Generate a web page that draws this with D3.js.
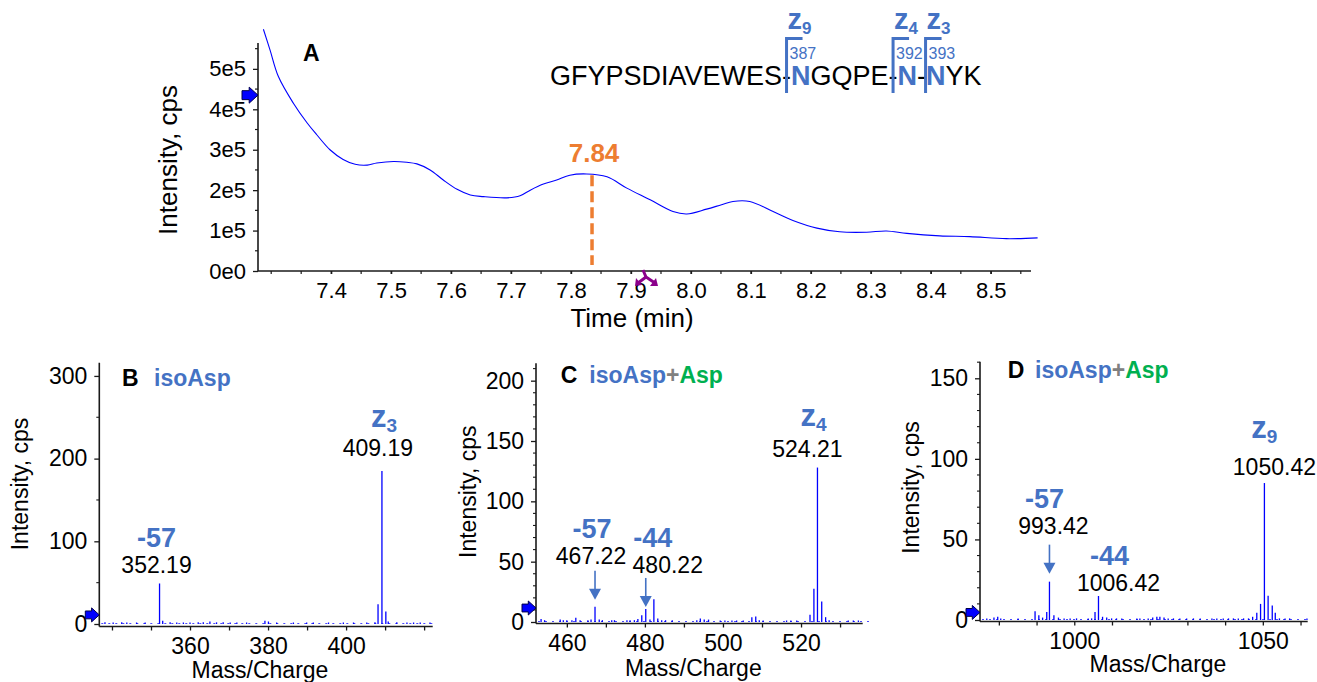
<!DOCTYPE html>
<html><head><meta charset="utf-8">
<script src="https://cdn.jsdelivr.net/npm/d3@7"></script>
<style>
body{margin:0;background:#fff}
svg{display:block;font-family:"Liberation Sans",Arial,Helvetica,sans-serif}
</style></head><body>
<svg id="c" width="1317" height="682"></svg>
<script>
// ================= DATA =================
// Panel A: extracted ion chromatogram (time in min, intensity in units of 1e5 cps)
const ticTime = [7.287,7.298,7.312,7.337,7.360,7.376,7.398,7.420,7.440,7.460,7.476,7.504,7.526,7.543,7.565,7.587,7.610,7.632,7.654,7.693,7.715,7.732,7.754,7.776,7.798,7.826,7.860,7.893,7.932,7.970,7.993,8.026,8.051,8.070,8.098,8.137,8.170,8.210,8.248,8.293,8.326,8.360,8.415,8.465,8.526,8.578];
const ticIntensity = [5.98,5.47,4.81,4.15,3.66,3.37,3.00,2.76,2.64,2.62,2.67,2.71,2.69,2.65,2.50,2.25,2.02,1.88,1.84,1.81,1.86,2.00,2.15,2.25,2.37,2.40,2.33,2.05,1.76,1.47,1.41,1.53,1.64,1.72,1.72,1.47,1.25,1.06,0.97,0.96,0.99,0.93,0.87,0.85,0.80,0.82];
const apexTime = 7.835;
const apexLabel = "7.84";
const markerTime = 7.925;
const ticThreshold = 4.35;
const ticYTicks = [0,1,2,3,4,5];
const ticYTickLabels = ["0e0","1e5","2e5","3e5","4e5","5e5"];
const ticXTicks = [7.4,7.5,7.6,7.7,7.8,7.9,8.0,8.1,8.2,8.3,8.4,8.5];
const ticXTickLabels = ["7.4","7.5","7.6","7.7","7.8","7.9","8.0","8.1","8.2","8.3","8.4","8.5"];

// Peptide sequence (N = deamidation sites)
const sequenceParts = [
  {text:"GFYPSDIAVEWES-", site:false},
  {text:"N", site:true},
  {text:"GQPE-", site:false},
  {text:"N", site:true},
  {text:"-", site:false},
  {text:"N", site:true},
  {text:"YK", site:false}
];
const siteIons = [{ion:"z", n:"9", residue:"387"},{ion:"z", n:"4", residue:"392"},{ion:"z", n:"3", residue:"393"}];

// Panels B-D: MS/MS spectra [m/z, intensity cps]
const peaksB = [[338.2,2],[340.3,1.5],[342.5,2],[343.8,1.5],[346.3,1],[348.5,1],[352.19,49],[353.0,4],[354.9,2],[356.6,1.5],[358.3,1.5],[360.0,1],[362.1,2],[363.4,2],[365.1,3],[366.8,2],[368.5,2],[370.3,1.5],[372.0,1],[374.5,1],[379.2,4],[380.1,3],[382.2,1.5],[386.5,1],[389.9,1],[391.6,1],[395.5,1],[399.3,1.5],[401.9,1],[405.3,1.5],[407.4,2],[408.19,24],[409.19,185],[410.19,15],[410.8,3],[413.0,2],[415.6,1],[417.3,1.5],[419.0,1],[421.5,1]];
const peaksC = [[453.4,2.5],[454.3,1.5],[458.3,2],[459.1,1.5],[460.0,1.5],[461.3,1.5],[462.3,3.5],[463.4,1.5],[465.4,1.5],[466.2,2],[467.22,12.7],[468.3,2],[469.1,1.5],[471.5,1.5],[472.2,1.5],[475.4,1.5],[476.2,1.5],[477.3,1.5],[478.2,2.5],[479.2,5.5],[480.22,10.8],[481.3,2],[482.3,18.8],[483.3,3],[484.3,1.5],[485.3,1.5],[487.0,1.5],[493.3,1.5],[494.2,3],[495.2,2],[496.3,2],[499.3,1],[500.5,1],[502.3,1],[503.5,1],[505.2,1],[507.4,4],[508.4,4.5],[509.3,1.5],[510.3,1],[516.3,1],[517.4,1],[518.9,1],[522.3,6],[523.3,27.6],[524.21,128],[525.3,17],[526.3,4],[527.2,1.5],[532.1,1],[533.4,1],[534.7,1]];
const peaksD = [[976.8,1],[978.7,1.5],[979.7,2],[980.5,1],[985.1,1],[989.6,5.5],[990.6,3],[991.6,1.5],[992.7,5],[993.42,23.8],[994.6,3],[995.8,1.5],[997.3,1],[998.9,1],[1000.6,1],[1003.7,1],[1004.6,1],[1005.5,5],[1006.42,14.9],[1007.5,2],[1008.6,1.5],[1009.9,1],[1011.2,1],[1012.6,1],[1016.6,1],[1017.4,1],[1019.6,1],[1020.8,1.5],[1021.9,2],[1022.7,2],[1023.8,1.5],[1024.9,1],[1026.3,1],[1028.0,1],[1029.8,1],[1031.6,1],[1033.4,1],[1036.5,1],[1037.8,1],[1039.5,1],[1040.9,1],[1042.2,1],[1043.5,1],[1044.9,1],[1046.2,1],[1047.3,2],[1048.4,4.5],[1049.4,10],[1050.42,85],[1051.4,15],[1052.5,9],[1053.3,4.5],[1054.4,1],[1055.9,1],[1057.1,1],[1061.7,1]];

const annotB = [{mz:352.19, value:"352.19", tag:"-57"},{mz:409.19, value:"409.19", tag:"z", sub:"3"}];
const annotC = [{mz:467.22, value:"467.22", tag:"-57", arrow:true},{mz:480.22, value:"480.22", tag:"-44", arrow:true},{mz:524.21, value:"524.21", tag:"z", sub:"4"}];
const annotD = [{mz:993.42, value:"993.42", tag:"-57", arrow:true},{mz:1006.42, value:"1006.42", tag:"-44"},{mz:1050.42, value:"1050.42", tag:"z", sub:"9"}];

const titleB = ["B", [["isoAsp","blue"]]];
const titleC = ["C", [["isoAsp","blue"],["+","gray"],["Asp","green"]]];
const titleD = ["D", [["isoAsp","blue"],["+","gray"],["Asp","green"]]];

const thresholdB = 11, thresholdC = 11.6, thresholdD = 4.7;

// ================= STYLE / LAYOUT =================
const BLUE = "#4472C4", GREEN = "#00B050", GRAY = "#808080", ORANGE = "#ED7D31", TRACE = "#0000ff", AXIS = "#1a1a1a";
const colorMap = {blue:BLUE, green:GREEN, gray:GRAY};
const svg = d3.select("#c");

function arrowMarker(g, xTip, yc, s) {
  const h = s/2, hw = s*0.28, sh = s*0.55;
  g.append("path")
    .attr("d", `M${xTip},${yc} L${xTip-sh},${yc-h} L${xTip-sh},${yc-hw} L${xTip-s},${yc-hw} L${xTip-s},${yc+hw} L${xTip-sh},${yc+hw} L${xTip-sh},${yc+h} Z`)
    .attr("fill", "#0000ff").attr("stroke", "#00004d").attr("stroke-width", 1);
}

function styleAxis(g, fs) {
  g.attr("font-family", null).attr("font-size", fs);
  g.selectAll("text").attr("fill", "#000");
  g.selectAll("line").attr("stroke", AXIS).attr("stroke-width", 1.3);
  g.select(".domain").remove();
}

// ---------- Panel A ----------
(function(){
  const L = {left:258, right:1031, y0:271, top:43};
  const x = d3.scaleLinear().domain([7.278, 8.567]).range([L.left, L.right]);
  const y = d3.scaleLinear().domain([0, 5.64]).range([L.y0, L.top]);
  const g = svg.append("g");

  const yMinor = d3.range(0.5, 5.6, 1);
  g.selectAll(".ymin").data(yMinor).join("line")
    .attr("x1", L.left-3).attr("x2", L.left).attr("y1", d=>y(d)).attr("y2", d=>y(d))
    .attr("stroke", AXIS).attr("stroke-width", 1.2);
  const xMinor = d3.range(7.30, 8.56, 0.05);
  g.selectAll(".xmin").data(xMinor).join("line")
    .attr("x1", d=>x(d)).attr("x2", d=>x(d)).attr("y1", L.y0).attr("y2", L.y0+3)
    .attr("stroke", AXIS).attr("stroke-width", 1.2);

  const ya = g.append("g").attr("transform", `translate(${L.left},0)`)
    .call(d3.axisLeft(y).tickValues(ticYTicks).tickSize(5).tickPadding(7).tickFormat((d,i)=>ticYTickLabels[i]));
  styleAxis(ya, 22);
  const xa = g.append("g").attr("transform", `translate(0,${L.y0})`)
    .call(d3.axisBottom(x).tickValues(ticXTicks).tickSize(3).tickPadding(8).tickFormat((d,i)=>ticXTickLabels[i]));
  styleAxis(xa, 22);

  g.append("line").attr("x1", L.left).attr("x2", L.left).attr("y1", L.top).attr("y2", L.y0).attr("stroke", AXIS).attr("stroke-width", 1.6);
  g.append("line").attr("x1", L.left).attr("x2", L.right).attr("y1", L.y0).attr("y2", L.y0).attr("stroke", AXIS).attr("stroke-width", 1.6);

  const pts = ticTime.map((t,i)=>[t, ticIntensity[i]]);
  g.append("path").datum(pts)
    .attr("d", d3.line().x(d=>x(d[0])).y(d=>y(d[1])).curve(d3.curveCatmullRom.alpha(0.5)))
    .attr("fill", "none").attr("stroke", TRACE).attr("stroke-width", 1.1);

  // apex marker
  g.append("line").attr("x1", x(apexTime)).attr("x2", x(apexTime))
    .attr("y1", y(2.37)).attr("y2", L.y0-6)
    .attr("stroke", ORANGE).attr("stroke-width", 3.5).attr("stroke-dasharray", "11,5");
  g.append("text").attr("x", x(apexTime)+2).attr("y", 162).attr("text-anchor", "middle")
    .attr("font-size", 26).attr("font-weight", "bold").attr("fill", ORANGE).text(apexLabel);

  // purple marker below axis
  const mx = x(markerTime), my = 277;
  g.append("path")
    .attr("d", `M${mx-3},${my-7} L${mx},${my} M${mx},${my} L${mx-8},${my+6} M${mx},${my} L${mx+9},${my+6}`)
    .attr("stroke", "#8B008B").attr("stroke-width", 3).attr("fill", "none");
  g.append("path").attr("d", `M${mx-11},${my+9} L${mx-10},${my+1} L${mx-4},${my+8} Z`).attr("fill", "#8B008B");
  g.append("path").attr("d", `M${mx+12},${my+9} L${mx+4},${my+9} L${mx+10},${my+1} Z`).attr("fill", "#8B008B");

  arrowMarker(g, L.left, y(ticThreshold), 16);

  g.append("text").attr("x", 303).attr("y", 61).attr("font-size", 23).attr("font-weight", "bold").text("A");

  g.append("text").attr("transform", `translate(177,160) rotate(-90)`).attr("text-anchor", "middle")
    .attr("font-size", 26).text("Intensity, cps");
  g.append("text").attr("x", 632).attr("y", 327).attr("text-anchor", "middle")
    .attr("font-size", 26).text("Time (min)");

  // sequence
  const seq = g.append("text").attr("x", 550).attr("y", 85).attr("font-size", 27);
  sequenceParts.forEach(p => {
    const ts = seq.append("tspan").text(p.text);
    if (p.site) ts.attr("fill", BLUE).attr("font-weight", "bold");
  });
  const node = seq.node();
  let idx = 0; const siteIdx = [];
  sequenceParts.forEach(p => { if (p.site) siteIdx.push(idx); idx += p.text.length; });
  const bracketShift = [0, 0, 4];
  siteIdx.forEach((ci, k) => {
    const dashS = node.getStartPositionOfChar(ci-1).x;
    const dashE = node.getEndPositionOfChar(ci-1).x;
    const bx = (dashS + dashE) / 2 + bracketShift[k];
    g.append("path").attr("d", `M${bx+16},38.5 L${bx},38.5 L${bx},93`)
      .attr("fill", "none").attr("stroke", BLUE).attr("stroke-width", 3);
    g.append("text").attr("x", bx+3).attr("y", 59).attr("font-size", 16).attr("fill", BLUE).text(siteIons[k].residue);
    const zt = g.append("text").attr("x", bx+1).attr("y", 29).attr("font-size", 29).attr("font-weight", "bold").attr("fill", BLUE);
    zt.append("tspan").text(siteIons[k].ion);
    zt.append("tspan").attr("font-size", 17).attr("dy", 5).text(siteIons[k].n);
  });
})();

// ---------- Spectra ----------
function spectrum(peaks, annot, title, threshold, L) {
  const x = d3.scaleLinear().domain(L.xDomain).range([L.left, L.right]);
  const y = d3.scaleLinear().domain([0, L.yMax]).range([L.y0, L.top]);
  const g = svg.append("g");
  const axY = L.y0 + L.axGap;

  g.selectAll(".ymin").data(L.yMinor).join("line")
    .attr("x1", L.left-3).attr("x2", L.left).attr("y1", d=>y(d)).attr("y2", d=>y(d))
    .attr("stroke", AXIS).attr("stroke-width", 1.1);
  const ya = g.append("g").attr("transform", `translate(${L.left},0)`)
    .call(d3.axisLeft(y).tickValues(L.yMajor).tickSize(5).tickPadding(7));
  styleAxis(ya, 23);
  const xa = g.append("g").attr("transform", `translate(0,${axY})`)
    .call(d3.axisBottom(x).tickValues(L.xTicks).tickSize(4).tickPadding(7)
      .tickFormat(d => L.xLabels.includes(d) ? String(d) : ""));
  styleAxis(xa, 23);

  g.append("line").attr("x1", L.left).attr("x2", L.left).attr("y1", L.top).attr("y2", axY).attr("stroke", AXIS).attr("stroke-width", 1.6);
  g.append("line").attr("x1", L.left).attr("x2", L.right).attr("y1", axY).attr("y2", axY).attr("stroke", AXIS).attr("stroke-width", 1.6);

  g.append("line").attr("x1", L.left+2).attr("x2", L.right + L.extra).attr("y1", y(0)-0.5).attr("y2", y(0)-0.5)
    .attr("stroke", "#4a4aff").attr("stroke-width", 1.2).attr("stroke-dasharray", "2,5");
  g.selectAll(".stick").data(peaks).join("line")
    .attr("x1", d=>x(d[0])).attr("x2", d=>x(d[0]))
    .attr("y1", y(0)).attr("y2", d=>Math.min(y(d[1]), y(0)-1.5))
    .attr("stroke", TRACE).attr("stroke-width", 1.3);

  arrowMarker(g, L.left, y(threshold), 14);

  annot.forEach((a, i) => {
    const o = L.annot[i];
    const pk = peaks.find(p => p[0] === a.mz);
    const px = x(a.mz), py = y(pk[1]);
    if (a.arrow) {
      g.append("line").attr("x1", px).attr("x2", px).attr("y1", py + o.arrowTop).attr("y2", py + o.arrowTip - 8)
        .attr("stroke", BLUE).attr("stroke-width", 1.6);
      g.append("path").attr("d", `M${px-6},${py+o.arrowTip-11} L${px+6},${py+o.arrowTip-11} L${px},${py+o.arrowTip} Z`).attr("fill", BLUE);
    }
    g.append("text").attr("x", px + o.numDx).attr("y", py + o.numDy).attr("text-anchor", "middle")
      .attr("font-size", 23).attr("fill", "#000").text(a.value);
    const t = g.append("text").attr("x", px + o.tagDx).attr("y", py + o.tagDy).attr("text-anchor", "middle")
      .attr("font-weight", "bold").attr("fill", BLUE).attr("font-size", a.sub ? 31 : 27);
    t.append("tspan").text(a.tag);
    if (a.sub) t.append("tspan").attr("font-size", 19).attr("dy", 5).text(a.sub);
  });

  g.append("text").attr("x", L.titleX).attr("y", L.titleY).attr("font-size", 23).attr("font-weight", "bold").text(title[0]);
  const st = g.append("text").attr("x", L.subX).attr("y", L.titleY).attr("font-size", 23).attr("font-weight", "bold");
  title[1].forEach(([s, c]) => st.append("tspan").attr("fill", colorMap[c]).text(s));

  g.append("text").attr("transform", `translate(${L.yTitleX},${L.yTitleY}) rotate(-90)`).attr("text-anchor", "middle")
    .attr("font-size", 23).text("Intensity, cps");
  g.append("text").attr("x", L.xTitleX).attr("y", L.xTitleY).attr("text-anchor", "middle")
    .attr("font-size", 23).text("Mass/Charge");
}

spectrum(peaksB, annotB, titleB, thresholdB, {
  left:99.3, right:432.7, y0:624, top:362.7, axGap:2.5, extra:0,
  xDomain:[336.75, 422.2], yMax:316,
  yMajor:[0,100,200,300], yMinor:[50,150,250],
  xTicks:d3.range(340, 421, 10), xLabels:[360,380,400],
  annot:[{numDx:-3,numDy:-10,tagDx:-3,tagDy:-36},{numDx:-4,numDy:-15,tagDx:2,tagDy:-44}],
  titleX:122, subX:154, titleY:386,
  yTitleX:28, yTitleY:484, xTitleX:260, xTitleY:678
});
spectrum(peaksC, annotC, titleC, thresholdC, {
  left:536, right:862.7, y0:622, top:363.3, axGap:1.5, extra:8,
  xDomain:[452.1, 535.8], yMax:214.4,
  yMajor:[0,50,100,150,200], yMinor:d3.range(10, 211, 10).filter(v=>v%50),
  xTicks:d3.range(460, 531, 10), xLabels:[460,480,500,520],
  annot:[{arrow:true,arrowTop:-36,arrowTip:-7,numDx:-4,numDy:-43,tagDx:-3,tagDy:-69},
         {arrow:true,arrowTop:-31,arrowTip:-2,numDx:22,numDy:-36,tagDx:7,tagDy:-62},
         {numDx:-10,numDy:-11,tagDx:-4,tagDy:-42}],
  titleX:560.7, subX:589.3, titleY:383.3,
  yTitleX:476, yTitleY:491.7, xTitleX:693.3, xTitleY:676
});
spectrum(peaksD, annotD, titleD, thresholdD, {
  left:980, right:1307.7, y0:620, top:361.7, axGap:1.5, extra:0,
  xDomain:[975, 1061.9], yMax:160.3,
  yMajor:[0,50,100,150], yMinor:d3.range(10, 161, 10).filter(v=>v%50),
  xTicks:d3.range(980, 1061, 10), xLabels:[1000,1050],
  annot:[{arrow:true,arrowTop:-37,arrowTip:-8,numDx:4,numDy:-48,tagDx:-5,tagDy:-74},
         {numDx:20,numDy:-5,tagDx:11,tagDy:-31},
         {numDx:10,numDy:-8,tagDx:0,tagDy:-45}],
  titleX:1007.7, subX:1035, titleY:378.3,
  yTitleX:919, yTitleY:487.5, xTitleX:1158, xTitleY:672
});
</script>
</body></html>
